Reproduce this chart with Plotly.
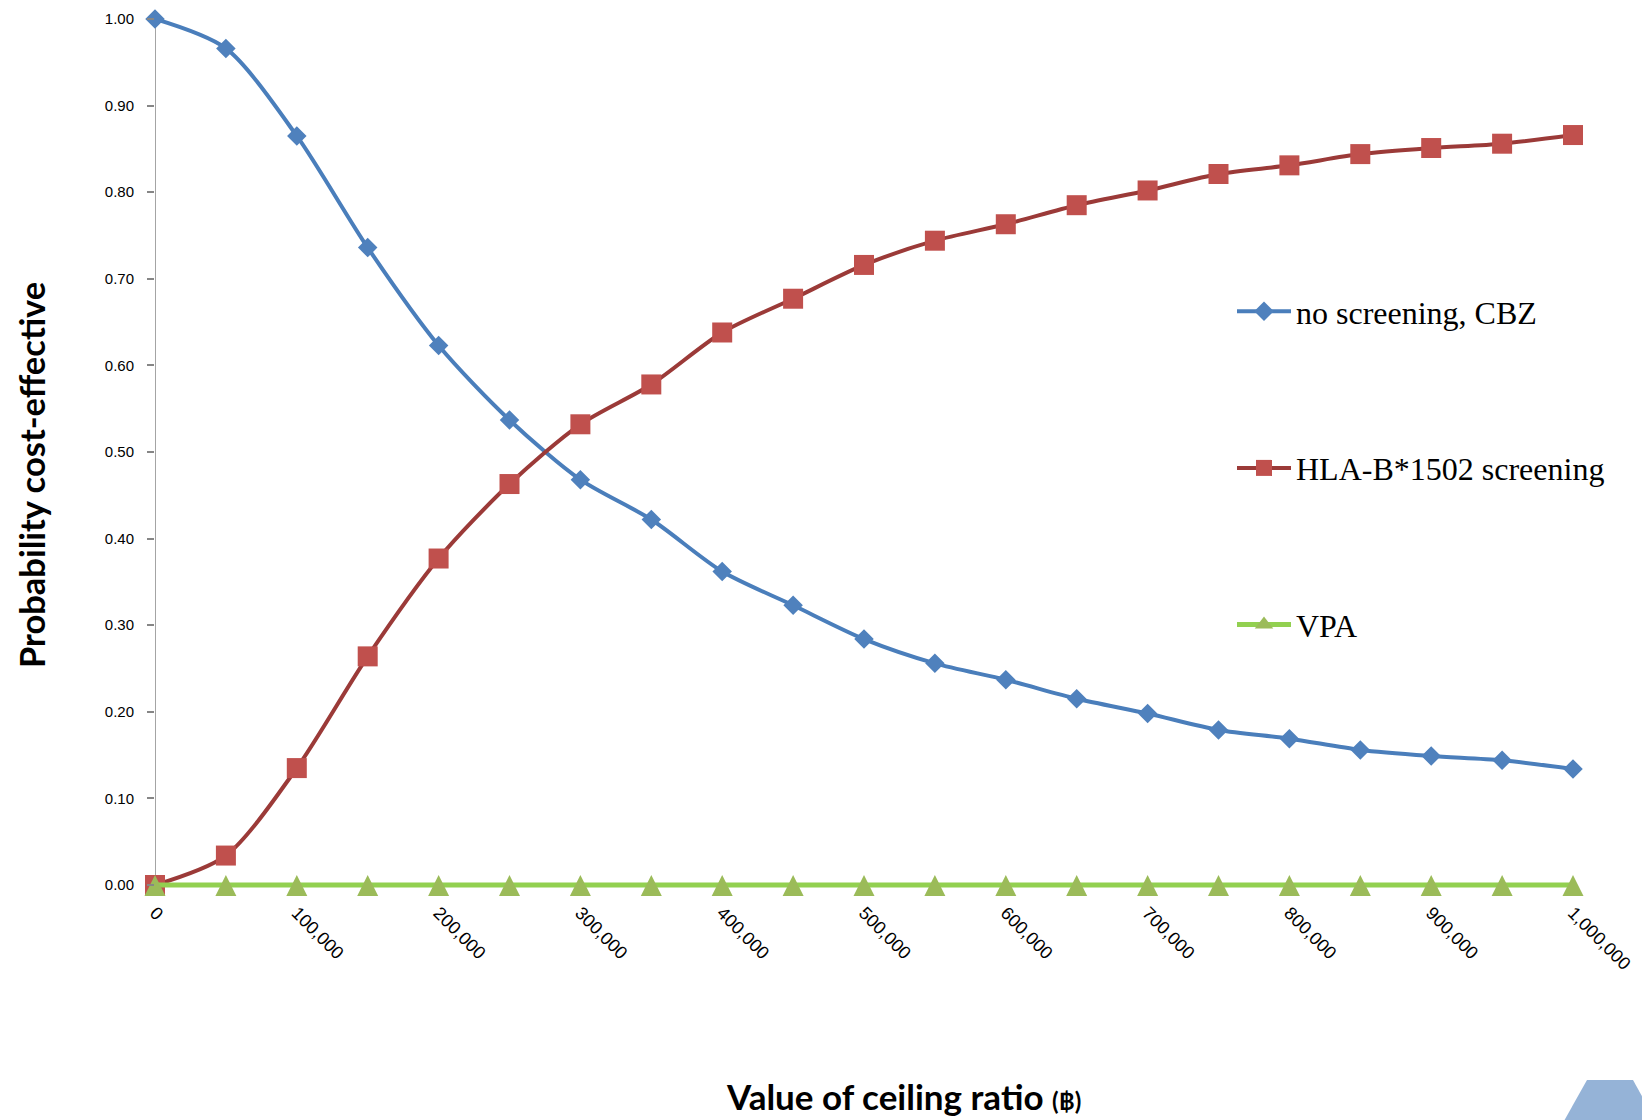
import plotly.graph_objects as go

# Ceiling ratio values (baht)
ceiling = [0, 50000, 100000, 150000, 200000, 250000, 300000, 350000, 400000, 450000,
           500000, 550000, 600000, 650000, 700000, 750000, 800000, 850000, 900000,
           950000, 1000000]

# Probability each strategy is cost-effective
no_screening_cbz = [1.000, 0.966, 0.865, 0.736, 0.623, 0.537, 0.468, 0.422, 0.362, 0.323,
                    0.284, 0.256, 0.237, 0.215, 0.198, 0.179, 0.169, 0.156, 0.149,
                    0.144, 0.134]
hla_screening = [0.000, 0.034, 0.135, 0.264, 0.377, 0.463, 0.532, 0.578, 0.638, 0.677,
                 0.716, 0.744, 0.763, 0.785, 0.802, 0.821, 0.831, 0.844, 0.851,
                 0.856, 0.866]
vpa = [0.0] * 21

x_tick_vals = [0, 100000, 200000, 300000, 400000, 500000, 600000, 700000, 800000,
               900000, 1000000]
x_tick_text = ["0", "100,000", "200,000", "300,000", "400,000", "500,000", "600,000",
               "700,000", "800,000", "900,000", "1,000,000"]

W, H = 1642, 1120
PAD = 6                      # px of headroom so thick lines at 0 and 1 are not clipped
Y0_PX, Y1_PX = 885, 19       # pixel rows of 0.00 and 1.00
L, R = 155, 69
T, B = Y1_PX - PAD, H - Y0_PX - PAD
unit = Y0_PX - Y1_PX         # px per 1.0 on the y axis
y_pad = PAD / unit
plot_w = W - L - R


def px_x(p):
    return (p - L) / plot_w


def px_y(p):
    # paper fraction for a pixel row
    return (H - B - p) / (H - T - B)


fig = go.Figure()

fig.add_trace(go.Scatter(
    x=ceiling, y=no_screening_cbz, name="no screening, CBZ", mode="lines+markers",
    line=dict(color="#4A7EBB", width=4, shape="spline", smoothing=0.8),
    marker=dict(symbol="diamond", size=15, color="#4F81BD", line=dict(width=0)),
    cliponaxis=False, legendgroup="g0",
))
fig.add_trace(go.Scatter(
    x=ceiling, y=hla_screening, name="HLA-B*1502 screening", mode="lines+markers",
    line=dict(color="#9B3A38", width=4, shape="spline", smoothing=0.8),
    marker=dict(symbol="square", size=20, color="#C0504D", line=dict(width=0)),
    cliponaxis=False, legendgroup="g1",
))
# upright triangles centred on the line: a flipped arrow-down, lifted by half its height
fig.add_trace(go.Scatter(
    x=ceiling, y=vpa, name="VPA", mode="lines+markers",
    line=dict(color="#92D050", width=5, shape="linear", backoff=0),
    marker=dict(symbol="arrow-down", size=21, standoff=10, angle=180,
                color="#9BBB59", line=dict(width=0)),
    cliponaxis=False, legendgroup="g2", showlegend=False,
))
# legend key for VPA (plain upright triangle)
fig.add_trace(go.Scatter(
    x=[None], y=[None], name="VPA", mode="lines+markers",
    line=dict(color="#92D050", width=5),
    marker=dict(symbol="triangle-up", size=18, color="#9BBB59", line=dict(width=0)),
    legendgroup="g2",
))

fig.update_layout(
    width=W, height=H,
    margin=dict(l=L, r=R, t=T, b=B, pad=0, autoexpand=False),
    plot_bgcolor="white", paper_bgcolor="white",
    showlegend=True,
    legend=dict(
        x=px_x(1232), y=px_y(284), xanchor="left", yanchor="top",
        font=dict(family="Liberation Serif", size=32, color="#000000"),
        traceorder="grouped", tracegroupgap=112,
        bgcolor="rgba(0,0,0,0)", itemwidth=54,
    ),
    xaxis=dict(
        range=[0, 1000000], tickvals=x_tick_vals, ticktext=x_tick_text,
        tickangle=45, showgrid=False, zeroline=False, showline=False,
        ticks="", tickfont=dict(family="Liberation Sans", size=18, color="#000000"),
        ticklabelstandoff=7,
    ),
    yaxis=dict(
        range=[-y_pad, 1 + y_pad], dtick=0.1, tick0=0, tickformat=".2f",
        showgrid=False, showline=False,
        zeroline=True, zerolinecolor="#868686", zerolinewidth=1.5,
        ticks="outside", ticklen=7, tickcolor="#868686", tickwidth=1.5,
        tickfont=dict(family="Liberation Sans", size=15, color="#000000"),
        ticklabelstandoff=10,
    ),
    annotations=[
        dict(text="<b>Probability cost-effective</b>", xref="paper", yref="paper",
             x=px_x(31), y=px_y(475), xanchor="center", yanchor="middle",
             textangle=-90, showarrow=False,
             font=dict(family="Lato", size=34.5, color="#000000")),
        dict(text="<b>Value of ceiling ratio <span style='font-size:24px'>(฿)</span></b>",
             xref="paper", yref="paper",
             x=px_x(904), y=px_y(1096), xanchor="center", yanchor="middle",
             showarrow=False,
             font=dict(family="Lato", size=35, color="#000000")),
    ],
    shapes=[
        # vertical axis line from 0 to 1
        dict(type="line", xref="x", yref="y", x0=0, x1=0, y0=0, y1=1,
             line=dict(color="#868686", width=1.5), layer="below"),
        dict(type="path", xref="paper", yref="paper",
             path=(f"M {px_x(1564)} {px_y(1121)} L {px_x(1587)} {px_y(1080)} "
                   f"L {px_x(1633)} {px_y(1080)} L {px_x(1643)} {px_y(1098)} "
                   f"L {px_x(1643)} {px_y(1121)} Z"),
             fillcolor="#95B3D7", line=dict(width=0), layer="above"),
    ],
)

fig.write_html("out.html")
